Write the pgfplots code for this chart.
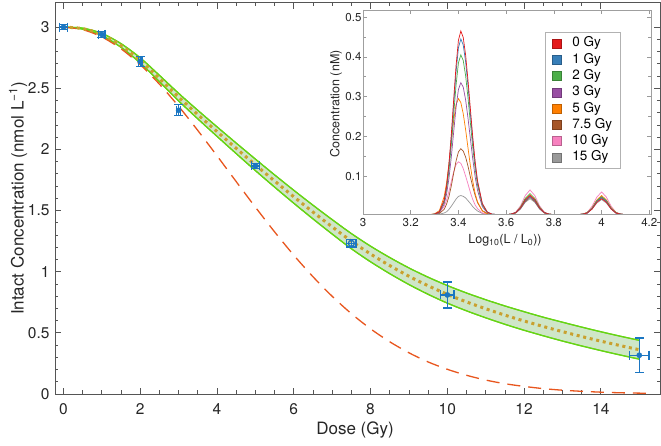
\documentclass[border=0pt]{standalone}
\usepackage{fontspec}
\setmainfont{TeX Gyre Heros}
\usepackage{pgfplots}
\pgfplotsset{compat=1.18}
\usepackage{pgfplotstable}
\usepgfplotslibrary{fillbetween}

\definecolor{axgray}{HTML}{555555}
\definecolor{dotc}{HTML}{C9A12E}
\definecolor{dashc}{HTML}{E8561E}
\definecolor{bandfill}{HTML}{CFE6C8}
\definecolor{bandline}{HTML}{66D414}
\definecolor{mblue}{HTML}{1B76C2}
\definecolor{s0}{HTML}{E41A1C}
\definecolor{s1}{HTML}{377EB8}
\definecolor{s2}{HTML}{4DAF4A}
\definecolor{s3}{HTML}{984EA3}
\definecolor{s5}{HTML}{FF7F00}
\definecolor{s75}{HTML}{A65628}
\definecolor{s10}{HTML}{F781BF}
\definecolor{s15}{HTML}{999999}

\pgfplotstableread{
x y
0 3.00
1 2.94
2 2.72
3 2.32
5 1.865
10 0.81
15 0.317
}\points
\pgfplotstableread{
x y
7.5 1.232
}\pointsopen
% vertical error bars (nan separates bars)
\pgfplotstableread{
x y
0 2.980
0 3.020
nan nan
1 2.915
1 2.965
nan nan
2 2.680
2 2.760
nan nan
3 2.275
3 2.365
nan nan
5 1.845
5 1.885
nan nan
7.5 1.202
7.5 1.262
nan nan
10 0.703
10 0.917
nan nan
15 0.177
15 0.457
}\yerr
% horizontal error bars
\pgfplotstableread{
x y
-0.10 3.000
0.10 3.000
nan nan
0.92 2.940
1.08 2.940
nan nan
1.95 2.720
2.05 2.720
nan nan
2.95 2.320
3.05 2.320
nan nan
4.90 1.865
5.10 1.865
nan nan
7.38 1.232
7.62 1.232
nan nan
9.83 0.810
10.17 0.810
nan nan
14.75 0.317
15.25 0.317
}\xerr

\pgfplotstableread{
x c up lo
0 3.000 3.000 3.000
0.5 2.988 2.992 2.984
1 2.940 2.949 2.931
1.5 2.850 2.865 2.835
2 2.728 2.749 2.707
2.5 2.580 2.606 2.554
3 2.428 2.459 2.397
3.5 2.285 2.320 2.250
4 2.146 2.185 2.107
4.5 2.009 2.052 1.966
5 1.874 1.921 1.827
5.5 1.742 1.792 1.692
6 1.613 1.666 1.560
6.5 1.488 1.544 1.432
7 1.367 1.426 1.308
7.5 1.250 1.312 1.188
8 1.145 1.209 1.081
8.5 1.050 1.116 0.984
9 0.963 1.031 0.895
9.5 0.885 0.955 0.815
10 0.815 0.887 0.743
10.5 0.753 0.826 0.680
11 0.697 0.771 0.623
11.5 0.645 0.720 0.570
12 0.597 0.673 0.521
12.5 0.552 0.628 0.476
13 0.510 0.587 0.433
13.5 0.470 0.547 0.393
14 0.432 0.509 0.355
14.5 0.396 0.473 0.319
15 0.362 0.439 0.285
}\fit

\pgfplotstableread{
x y
0 3.000
0.5 2.980
1 2.920
1.5 2.823
2 2.693
2.5 2.534
3 2.353
3.5 2.155
4 1.948
4.5 1.737
5 1.528
5.5 1.326
6 1.135
6.5 0.959
7 0.799
7.5 0.657
8 0.533
8.5 0.427
9 0.337
9.5 0.262
10 0.202
10.5 0.153
11 0.114
11.5 0.084
12 0.062
12.5 0.044
13 0.031
13.5 0.022
14 0.015
14.5 0.010
15 0.007
15.2 0.006
}\model

\pgfplotstableread{
x c0 c1 c2 c3 c5 c75 c10 c15
3.00 0.003 0.003 0.003 0.003 0.003 0.003 0.003 0.003
3.10 0.003 0.003 0.003 0.003 0.003 0.003 0.003 0.003
3.20 0.003 0.003 0.003 0.003 0.003 0.003 0.003 0.003
3.28 0.003 0.003 0.003 0.003 0.003 0.003 0.003 0.003
3.30 0.004 0.004 0.004 0.004 0.005 0.003 0.004 0.003
3.32 0.010 0.010 0.009 0.008 0.013 0.006 0.008 0.004
3.34 0.039 0.038 0.034 0.029 0.048 0.016 0.023 0.007
3.35 0.074 0.071 0.065 0.054 0.082 0.029 0.039 0.010
3.36 0.129 0.123 0.112 0.093 0.130 0.048 0.061 0.016
3.37 0.204 0.195 0.178 0.147 0.186 0.075 0.086 0.024
3.38 0.292 0.280 0.255 0.211 0.240 0.107 0.111 0.033
3.39 0.378 0.362 0.329 0.273 0.280 0.138 0.129 0.042
3.40 0.442 0.423 0.385 0.318 0.295 0.161 0.136 0.049
3.41 0.465 0.445 0.405 0.335 0.285 0.169 0.132 0.051
3.42 0.449 0.430 0.391 0.324 0.257 0.163 0.119 0.049
3.43 0.405 0.388 0.353 0.292 0.217 0.148 0.100 0.045
3.44 0.341 0.327 0.297 0.246 0.171 0.125 0.080 0.038
3.45 0.269 0.257 0.234 0.194 0.126 0.098 0.059 0.031
3.46 0.198 0.189 0.172 0.143 0.087 0.073 0.041 0.023
3.47 0.136 0.130 0.118 0.098 0.056 0.051 0.027 0.017
3.48 0.088 0.084 0.077 0.064 0.035 0.033 0.018 0.012
3.50 0.031 0.030 0.027 0.023 0.012 0.013 0.007 0.006
3.52 0.010 0.010 0.009 0.008 0.005 0.006 0.004 0.004
3.54 0.004 0.004 0.004 0.004 0.003 0.003 0.003 0.003
3.57 0.003 0.003 0.003 0.003 0.003 0.003 0.003 0.003
3.60 0.003 0.003 0.003 0.003 0.003 0.003 0.003 0.003
3.62 0.004 0.004 0.004 0.004 0.004 0.004 0.004 0.004
3.64 0.008 0.008 0.008 0.008 0.008 0.007 0.009 0.007
3.66 0.020 0.019 0.022 0.020 0.021 0.018 0.025 0.017
3.68 0.040 0.038 0.044 0.039 0.042 0.036 0.051 0.034
3.70 0.051 0.048 0.056 0.050 0.053 0.046 0.065 0.043
3.72 0.040 0.038 0.044 0.039 0.042 0.036 0.051 0.034
3.74 0.020 0.019 0.022 0.020 0.021 0.018 0.025 0.017
3.76 0.008 0.008 0.008 0.008 0.008 0.007 0.009 0.007
3.78 0.004 0.004 0.004 0.004 0.004 0.004 0.004 0.004
3.80 0.003 0.003 0.003 0.003 0.003 0.003 0.003 0.003
3.86 0.003 0.003 0.003 0.003 0.003 0.003 0.003 0.003
3.90 0.003 0.003 0.003 0.003 0.003 0.003 0.003 0.003
3.92 0.004 0.004 0.004 0.004 0.004 0.004 0.004 0.004
3.94 0.007 0.007 0.008 0.007 0.008 0.008 0.009 0.007
3.96 0.017 0.018 0.019 0.018 0.020 0.019 0.024 0.017
3.98 0.034 0.036 0.038 0.036 0.040 0.038 0.047 0.032
4.00 0.043 0.045 0.048 0.046 0.051 0.048 0.060 0.041
4.02 0.034 0.036 0.038 0.036 0.040 0.038 0.047 0.032
4.04 0.017 0.018 0.019 0.018 0.020 0.019 0.024 0.017
4.06 0.007 0.007 0.008 0.007 0.008 0.008 0.009 0.007
4.08 0.004 0.004 0.004 0.004 0.004 0.004 0.004 0.004
4.10 0.003 0.003 0.003 0.003 0.003 0.003 0.003 0.003
4.15 0.003 0.003 0.003 0.003 0.003 0.003 0.003 0.003
4.20 0.003 0.003 0.003 0.003 0.003 0.003 0.003 0.003
}\spec

\begin{document}
\begin{tikzpicture}
\begin{axis}[name=main, at={(0pt,0pt)}, anchor=south west,
  scale only axis, width=605pt, height=391.3pt,
  xmin=-0.22, xmax=15.54, ymin=0, ymax=3.2,
  xtick={0,2,4,6,8,10,12,14}, ytick={0,0.5,1,1.5,2,2.5,3},
  minor x tick num=3, minor y tick num=4,
  tick align=inside, major tick length=6pt, minor tick length=3.5pt,
  axis line style={axgray, line width=0.9pt},
  every tick/.style={axgray, line width=0.8pt},
  tick label style={font=\fontsize{15.5}{18}\selectfont, text=black!85},
  /pgf/number format/assume math mode=true,
  xticklabel style={yshift=-6pt},
  yticklabel style={xshift=-2pt},
  unbounded coords=jump,
  xlabel={Dose (Gy)},
  ylabel={Intact Concentration (nmol L\textsuperscript{−1})},
  label style={font=\fontsize{17}{20}\selectfont, text=black!85},
  xlabel style={at={(axis description cs:0.496,-0.092)}, anchor=center},
  ylabel style={at={(axis description cs:-0.0612,0.5)}, anchor=center},
]
\addplot[name path=up, bandline, line width=1.2pt, smooth] table[x=x,y=up] {\fit};
\addplot[name path=lo, bandline, line width=1.2pt, smooth] table[x=x,y=lo] {\fit};
\addplot[bandfill] fill between[of=up and lo];
\addplot[bandline, line width=1.2pt, smooth] table[x=x,y=up] {\fit};
\addplot[bandline, line width=1.2pt, smooth] table[x=x,y=lo] {\fit};
\addplot[dashc, line width=1.3pt, dash pattern=on 13pt off 8pt, smooth] table[x=x,y=y] {\model};
\addplot[dotc, line width=3pt, dash pattern=on 3pt off 3.7pt, smooth] table[x=x,y=c] {\fit};
\addplot[mblue, line width=1.3pt, mark=-, mark size=4.5pt, mark options={solid, line width=1.3pt}] table[x=x,y=y] {\yerr};
\addplot[mblue, line width=1.3pt, mark=|, mark size=4.5pt, mark options={solid, line width=1.3pt}] table[x=x,y=y] {\xerr};
\addplot[mblue, only marks, mark=*, mark size=2.6pt] table[x=x, y=y] {\points};
\addplot[mblue, only marks, mark=o, mark size=3pt, mark options={line width=1.3pt}] table[x=x, y=y] {\pointsopen};
\end{axis}

\begin{axis}[name=inset, at={(308pt,180pt)}, anchor=south west,
  scale only axis, width=288pt, height=204pt,
  xmin=3, xmax=4.207, ymin=0.0045, ymax=0.518,
  axis background/.style={fill=white},
  xtick={3,3.2,3.4,3.6,3.8,4,4.2}, ytick={0.1,0.2,0.3,0.4,0.5},
  minor y tick num=1,
  tick align=inside, major tick length=4pt, minor tick length=3pt,
  axis line style={gray!75, line width=0.7pt},
  every tick/.style={gray!80, line width=0.6pt},
  tick label style={font=\fontsize{11.5}{13}\selectfont, text=black!85},
  /pgf/number format/assume math mode=true,
  xticklabel style={yshift=-1pt},
  yticklabel style={xshift=2pt},
  xlabel={Log\textsubscript{10}(L / L\textsubscript{0}))},
  ylabel={Concentration (nM)},
  label style={font=\fontsize{12.5}{14}\selectfont, text=black!85},
  xlabel style={at={(axis description cs:0.493,-0.127)}, anchor=center},
  ylabel style={at={(axis description cs:-0.094,0.54)}, anchor=center},
  legend image code/.code={\draw[#1, line width=0.6pt] (0pt,-4.5pt) rectangle (9pt,4.5pt);},
  legend cell align=left,
  legend style={at={(axis description cs:0.632,0.892)}, anchor=north west,
    draw=gray!60, line width=0.6pt, font=\fontsize{13.5}{15}\selectfont,
    inner xsep=7pt, inner ysep=3pt, row sep=0pt,
    nodes={inner sep=1.5pt, text height=10pt, text depth=3.3pt},
    /tikz/every odd column/.append style={column sep=9pt}},
]
\addplot[s15, line width=0.7pt, forget plot] table[x=x,y=c15] {\spec};
\addplot[s10, line width=0.7pt, forget plot] table[x=x,y=c10] {\spec};
\addplot[s75, line width=0.7pt, forget plot] table[x=x,y=c75] {\spec};
\addplot[s5, line width=0.7pt, forget plot] table[x=x,y=c5] {\spec};
\addplot[s3, line width=0.7pt, forget plot] table[x=x,y=c3] {\spec};
\addplot[s2, line width=0.7pt, forget plot] table[x=x,y=c2] {\spec};
\addplot[s1, line width=0.7pt, forget plot] table[x=x,y=c1] {\spec};
\addplot[s0, line width=0.7pt, forget plot] table[x=x,y=c0] {\spec};
\addlegendimage{draw=s0!75!black, fill=s0}
\addlegendentry{0 Gy}
\addlegendimage{draw=s1!75!black, fill=s1}
\addlegendentry{1 Gy}
\addlegendimage{draw=s2!75!black, fill=s2}
\addlegendentry{2 Gy}
\addlegendimage{draw=s3!75!black, fill=s3}
\addlegendentry{3 Gy}
\addlegendimage{draw=s5!75!black, fill=s5}
\addlegendentry{5 Gy}
\addlegendimage{draw=s75!75!black, fill=s75}
\addlegendentry{7.5 Gy}
\addlegendimage{draw=s10!75!black, fill=s10}
\addlegendentry{10 Gy}
\addlegendimage{draw=s15!75!black, fill=s15}
\addlegendentry{15 Gy}
\end{axis}
\pgfresetboundingbox
\useasboundingbox (-55pt,-52pt) rectangle (606pt,394pt);
\end{tikzpicture}
\end{document}
